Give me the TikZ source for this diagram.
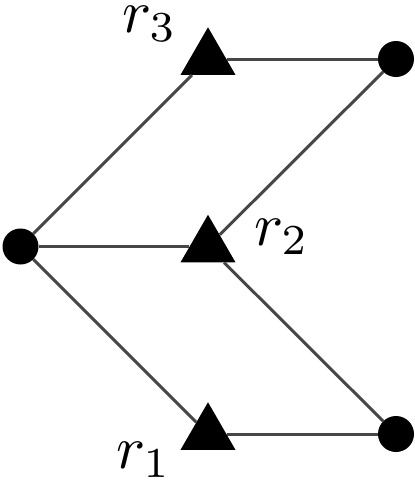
\documentclass[tikz,border=0pt]{standalone}
\usetikzlibrary{shapes.geometric}
\begin{document}
\begin{tikzpicture}[x=1pt,y=-1pt,
  dot/.style={circle,fill=black,inner sep=0pt,minimum size=36pt},
  tri/.style={regular polygon,regular polygon sides=3,fill=black,inner sep=0pt,minimum size=63.5pt},
  edge/.style={draw=black!72,line width=3pt},
  lab/.style={anchor=base west,inner sep=0pt,scale=6.1,transform shape}]
\useasboundingbox (0,0) rectangle (415,483);
\node[dot] (L) at (20.5,246.5) {};
\node[tri] (r3) at (208,59) {};
\node[tri] (r2) at (208,246.5) {};
\node[tri] (r1) at (208,434) {};
\node[dot] (TR) at (396,59) {};
\node[dot] (BR) at (396,434) {};
\draw[edge] (L) -- (r3);
\draw[edge] (L) -- (r2);
\draw[edge] (L) -- (r1);
\draw[edge] (r3) -- (TR);
\draw[edge] (r2) -- (TR);
\draw[edge] (r2) -- (BR);
\draw[edge] (r1) -- (BR);
\node[lab] (l3) at (121,32) {$r_3$};
\node[lab] (l2) at (253,245) {$r_2$};
\node[lab] (l1) at (115,468) {$r_1$};
\end{tikzpicture}
\end{document}
